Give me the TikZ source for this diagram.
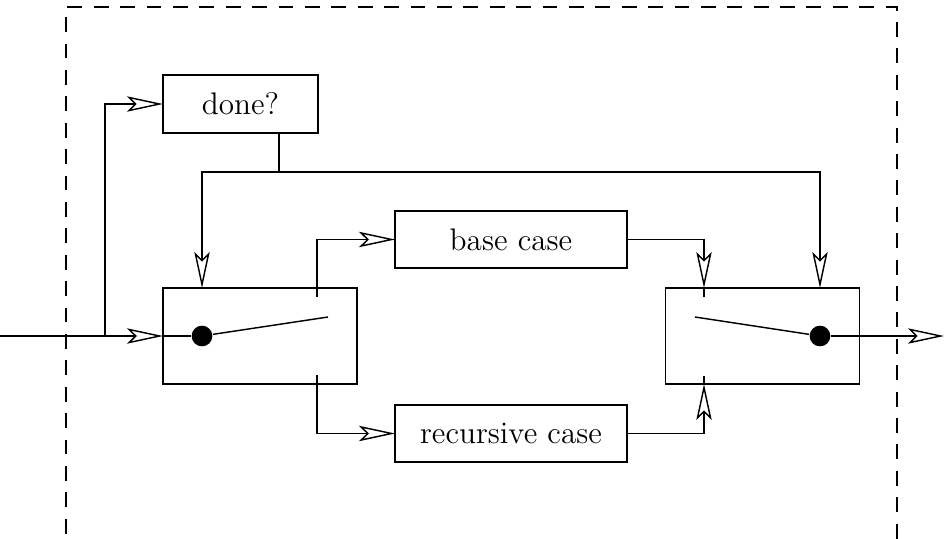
\documentclass[tikz,border=0pt]{standalone}
\usetikzlibrary{arrows.meta,calc}
\begin{document}
\begin{tikzpicture}[x=0.4167pt,y=-0.4167pt,
  line width=0.6pt,
  box/.style={draw,inner sep=0pt,outer sep=0pt,font=\fontsize{13}{15.6}\selectfont},
  arr/.style={-{Stealth[open,length=15pt,width=6.4pt,inset=3.2pt,line width=0.6pt]}},
  frame/.style={dash pattern=on 6.2pt off 4.8pt},
  dotnode/.style={circle,fill=black,inner sep=0pt,minimum size=8.6pt}]
\useasboundingbox (0,0) rectangle (944,538);
\draw[frame] (66,560) -- (66,7) -- (897,7) -- (897,560);
% boxes
\node[box,minimum width=64.6pt,minimum height=24.2pt] (done) at (240.5,104) {done?};
\node[box,minimum width=96.6pt,minimum height=23.8pt] (base) at (511,239.5) {base case};
\node[box,minimum width=96.6pt,minimum height=23.8pt] (rec) at (511,433.5) {recursive case};
\node[box,minimum width=80.8pt,minimum height=40pt] (sw1) at (260,336) {};
\node[box,minimum width=80.8pt,minimum height=40pt] (sw2) at (762.5,336) {};
\node[dotnode] (d1) at (202,336) {};
\node[dotnode] (d2) at (820,336) {};
% coordinates
\coordinate (in) at (0,336);
\coordinate (br) at (105,336);
\coordinate (jx) at (279,172);
\coordinate (a1) at (328,317);
\coordinate (t1) at (317,297);
\coordinate (b1) at (317,375);
\coordinate (a2) at (695,317);
\coordinate (t2) at (704,297);
\coordinate (b2) at (704,376);
\coordinate (out) at (944,336);
% input
\draw[arr] (in) -- (sw1.west);
\draw[arr] (br) |- (done.west);
\draw (sw1.west) -- (d1);
\draw (d1) -- (a1);
% done to switches
\draw (done.south -| jx) -- (jx);
\draw[arr] (jx) -| (d1 |- sw1.north);
\draw[arr] (jx) -| (d2 |- sw2.north);
% left switch outputs
\draw[arr] (t1) |- (base.west);
\draw[arr] (b1) |- (rec.west);
% right switch inputs
\draw[arr] (base.east) -| (t2 |- sw2.north);
\draw (sw2.north -| t2) -- (t2);
\draw[arr] (rec.east) -| (b2 |- sw2.south);
\draw (sw2.south -| b2) -- (b2);
% right switch
\draw (d2) -- (a2);
\draw[arr] (d2) -- (out);
\end{tikzpicture}
\end{document}
